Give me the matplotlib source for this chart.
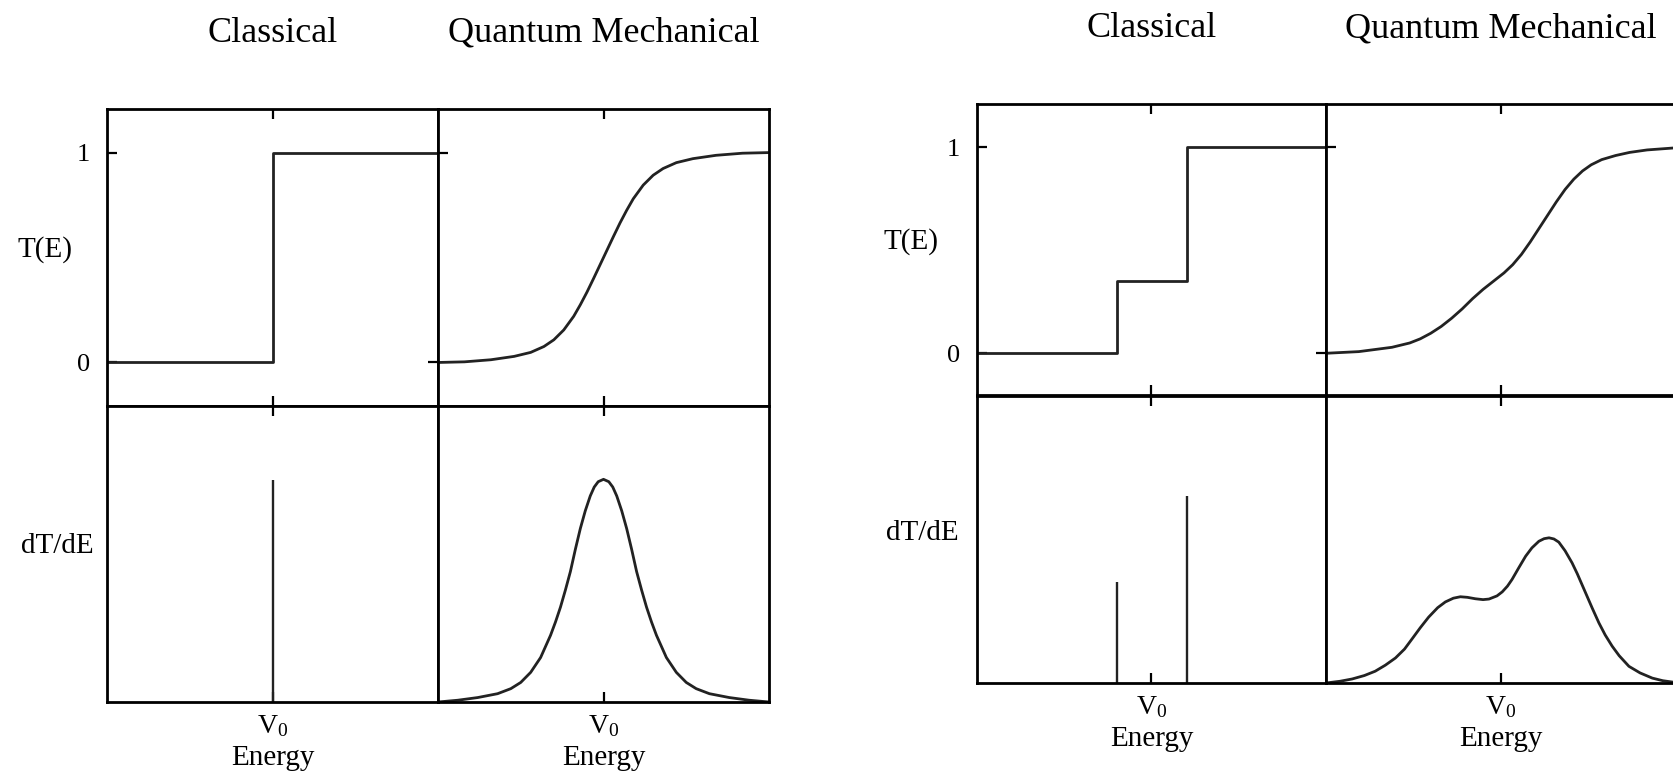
import matplotlib

matplotlib.use("Agg")
import matplotlib.pyplot as plt

# ── data (energy in panel units, V0 = 0.5) ──
V0 = 0.5

# left figure: single barrier
cl1_edges = [0.0, 0.5, 1.0]
cl1_levels = [0.0, 1.0, 1.0]
cl1_spike_pos = [0.5]
cl1_spike_height = [0.75]

qm1_T_E = [0.0, 0.08, 0.16, 0.23, 0.28, 0.32, 0.35, 0.38, 0.41, 0.43, 0.45, 0.47, 0.5,
           0.53, 0.55, 0.57, 0.59, 0.62, 0.65, 0.68, 0.72, 0.77, 0.84, 0.92, 1.0]
qm1_T = [0.0, 0.003, 0.013, 0.029, 0.048, 0.076, 0.108, 0.155, 0.22, 0.275, 0.335, 0.40, 0.5,
         0.60, 0.665, 0.725, 0.78, 0.845, 0.892, 0.924, 0.952, 0.971, 0.987, 0.997, 1.0]

qm1_dT_E = [0.0, 0.06, 0.12, 0.18, 0.22, 0.25, 0.28, 0.31, 0.34, 0.355, 0.37, 0.385, 0.40,
            0.415, 0.43, 0.445, 0.46, 0.472, 0.484, 0.5, 0.516, 0.528, 0.54, 0.555, 0.57,
            0.585, 0.60, 0.615, 0.63, 0.645, 0.66, 0.69, 0.72, 0.75, 0.78, 0.82, 0.88, 0.94,
            1.0]
qm1_dT = [0.0, 0.006, 0.015, 0.028, 0.045, 0.066, 0.100, 0.15, 0.225, 0.27, 0.32, 0.378, 0.44,
          0.515, 0.585, 0.645, 0.695, 0.725, 0.743, 0.751, 0.743, 0.725, 0.695, 0.645, 0.585,
          0.515, 0.44, 0.378, 0.32, 0.27, 0.225, 0.15, 0.100, 0.066, 0.045, 0.028, 0.015,
          0.006, 0.0]

# right figure: double barrier
cl2_edges = [0.0, 0.402, 0.601, 1.0]
cl2_levels = [0.0, 0.35, 1.0, 1.0]
cl2_spike_pos = [0.402, 0.601]
cl2_spike_height = [0.35, 0.65]

qm2_T_E = [0.0, 0.094, 0.189, 0.24, 0.27, 0.30, 0.33, 0.36, 0.39, 0.42, 0.45, 0.48, 0.51,
           0.535, 0.56, 0.585, 0.61, 0.635, 0.66, 0.685, 0.71, 0.735, 0.76, 0.79, 0.83,
           0.87, 0.92, 1.0]
qm2_T = [0.0, 0.008, 0.029, 0.05, 0.07, 0.097, 0.13, 0.17, 0.215, 0.265, 0.31, 0.35, 0.39,
         0.43, 0.48, 0.54, 0.605, 0.67, 0.735, 0.795, 0.845, 0.885, 0.915, 0.94, 0.96,
         0.975, 0.987, 0.997]

qm2_dT_E = [0.0, 0.04, 0.075, 0.11, 0.141, 0.17, 0.199, 0.225, 0.247, 0.27, 0.294, 0.32,
            0.342, 0.365, 0.385, 0.405, 0.428, 0.45, 0.467, 0.49, 0.505, 0.52, 0.533, 0.552,
            0.572, 0.59, 0.61, 0.625, 0.639, 0.653, 0.667, 0.685, 0.705, 0.72, 0.744, 0.763,
            0.782, 0.80, 0.82, 0.84, 0.868, 0.90, 0.935, 0.965, 1.0]
qm2_dT = [0.0, 0.006, 0.014, 0.026, 0.041, 0.062, 0.087, 0.118, 0.154, 0.192, 0.229, 0.262,
          0.282, 0.295, 0.300, 0.298, 0.293, 0.29, 0.292, 0.303, 0.317, 0.337, 0.36, 0.40,
          0.441, 0.47, 0.493, 0.502, 0.505, 0.501, 0.49, 0.46, 0.418, 0.38, 0.313, 0.26,
          0.209, 0.167, 0.128, 0.095, 0.058, 0.035, 0.017, 0.008, 0.002]

col_titles = ["Classical", "Quantum Mechanical"]
v0_label = r"$\mathrm{V_0}$"

plt.rcParams["font.family"] = ["Liberation Serif", "DejaVu Serif"]
plt.rcParams["mathtext.fontset"] = "custom"
plt.rcParams["mathtext.rm"] = "Liberation Serif"
plt.rcParams["axes.linewidth"] = 2.0

W, H = 1673, 774
fig = plt.figure(figsize=(W / 100, H / 100), dpi=100)


def px_axes(x0, x1, y_top, y_bot):
    return fig.add_axes([x0 / W, 1 - y_bot / H, (x1 - x0) / W, (y_bot - y_top) / H])


def build(xs, ys, lab_x, lab_y):
    """xs: left, mid, right edges; ys: top, mid, bottom (pixels)."""
    axes = {
        "cu": px_axes(xs[0], xs[1], ys[0], ys[1]),
        "qu": px_axes(xs[1], xs[2], ys[0], ys[1]),
        "cl": px_axes(xs[0], xs[1], ys[1], ys[2]),
        "ql": px_axes(xs[1], xs[2], ys[1], ys[2]),
    }
    for key, ax in axes.items():
        ax.set_xlim(0, 1)
        ax.set_xticks([V0])
        ax.tick_params(axis="x", direction="in", top=True, bottom=True, length=7, width=1.6,
                       labelsize=20, pad=8)
        if key in ("cu", "qu"):
            ax.set_ylim(-0.205, 1.21)
            ax.tick_params(axis="x", labelbottom=False)
        else:
            ax.set_ylim(0, 1)
            ax.set_yticks([])
            ax.set_xticklabels([v0_label])
            ax.set_xlabel("Energy", fontsize=21, labelpad=4)
    # upper classical: y ticks 0 and 1
    cu, qu = axes["cu"], axes["qu"]
    cu.set_yticks([0, 1])
    cu.set_yticklabels(["0", "1"])
    cu.tick_params(axis="y", direction="in", length=7, width=1.6, labelsize=19, pad=12)
    qu.set_yticks([1])
    qu.set_yticks([0], minor=True)
    qu.tick_params(axis="y", which="major", direction="in", length=7, width=1.6, labelleft=False)
    qu.tick_params(axis="y", which="minor", direction="out", length=7, width=1.6)

    cu.set_title(col_titles[0], fontsize=26, pad=48)
    qu.set_title(col_titles[1], fontsize=26, pad=48)

    cu.set_ylabel("T(E)", fontsize=21, rotation=0, ha="center", va="center")
    cu.yaxis.set_label_coords(lab_x[0], lab_y[0])
    axes["cl"].set_ylabel("dT/dE", fontsize=21, rotation=0, ha="center", va="center")
    axes["cl"].yaxis.set_label_coords(lab_x[1], lab_y[1])
    return axes


line_kw = dict(color="#222222", linewidth=2.0, solid_joinstyle="round")

# ── left figure ──
a1 = build((107, 438, 769), (108.5, 405.5, 702), (-0.187, -0.151), (0.524, 0.526))
a1["cu"].step(cl1_edges, cl1_levels, where="post", color="#222222", linewidth=2.0)
a1["cl"].vlines(cl1_spike_pos, 0, cl1_spike_height, color="#222222", linewidth=1.7)
a1["qu"].plot(qm1_T_E, qm1_T, **line_kw)
a1["ql"].plot(qm1_dT_E, qm1_dT, **line_kw)

# ── right figure ──
a2 = build((977, 1326, 1675), (104, 395.5, 683), (-0.189, -0.158), (0.527, 0.523))
a2["cu"].step(cl2_edges, cl2_levels, where="post", color="#222222", linewidth=2.0)
a2["cl"].vlines(cl2_spike_pos, 0, cl2_spike_height, color="#222222", linewidth=1.7)
a2["qu"].plot(qm2_T_E, qm2_T, **line_kw)
a2["ql"].plot(qm2_dT_E, qm2_dT, **line_kw)

fig.savefig("out.png", dpi=100)
plt.close(fig)
